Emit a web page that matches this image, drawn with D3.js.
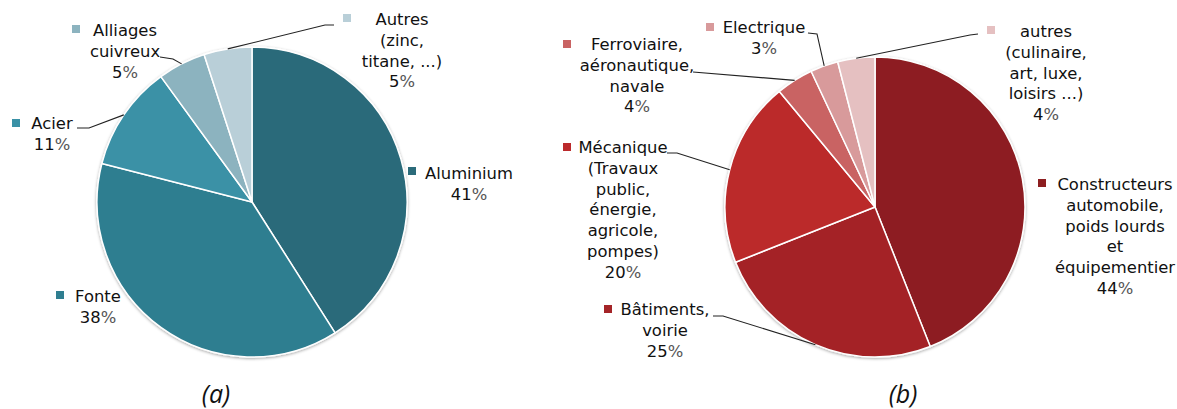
<!DOCTYPE html>
<html>
<head>
<meta charset="utf-8">
<script src="https://cdn.jsdelivr.net/npm/d3@7"></script>
<style>
  body { margin: 0; background: #fff; }
  text { font-family: "DejaVu Sans", sans-serif; fill: #111; }
  .cap { font-family: "Open Sans", sans-serif; font-style: italic; font-size: 25px; }
</style>
</head>
<body>
<div id="chart"></div>
<script>
// Data (a): materials
const labelsA = [["Aluminium"], ["Fonte"], ["Acier"], ["Alliages", "cuivreux"], ["Autres", "(zinc,", "titane, ...)"]];
const valuesA = [41, 38, 11, 5, 5];
const colorsA = ["#2b6b7a", "#2f7e90", "#3a91a6", "#8cb3bf", "#b9cfd8"];

// Data (b): sectors
const labelsB = [["Constructeurs", "automobile,", "poids lourds", "et", "équipementier"], ["Bâtiments,", "voirie"],
                 ["Mécanique", "(Travaux", "public,", "énergie,", "agricole,", "pompes)"],
                 ["Ferroviaire,", "aéronautique,", "navale"], ["Electrique"], ["autres", "(culinaire,", "art, luxe,", "loisirs ...)"]];
const valuesB = [44, 25, 20, 4, 3, 4];
const colorsB = ["#8d1e20", "#a42428", "#bb2a2c", "#c96363", "#d89a9b", "#e5c0c1"];

// Label layout: text centre x, first baseline y, marker centre, leader start points
const layoutA = [
    { x: 469, y: 179, mx: 412, my: 171 },
    { x: 98, y: 302, mx: 60, my: 295 },
    { x: 52, y: 129, mx: 16, my: 123, leader: [[77, 128], [89, 128]] },
    { x: 125, y: 36, mx: 76, my: 29, leader: [[160, 57], [173, 59]] },
    { x: 402, y: 25, mx: 347, my: 18, leader: [[334, 25], [325, 25]] }
];
const layoutB = [
    { x: 1115, y: 190, mx: 1042, my: 183 },
    { x: 665, y: 315, mx: 608, my: 309, leader: [[713, 316], [723, 316]] },
    { x: 623, y: 153, mx: 567, my: 147, leader: [[667, 153], [677, 153]] },
    { x: 637, y: 50, mx: 567, my: 44, leader: [[693, 72]] },
    { x: 764, y: 33, mx: 710, my: 27, leader: [[808, 33], [817, 34]] },
    { x: 1046, y: 37, mx: 991, my: 30, leader: [[978, 34], [970, 35]] }
];

const W = 1177, H = 409;
const lineH = 20.8;

const svg = d3.select("#chart")
    .append("svg")
    .attr("width", W)
    .attr("height", H);

const defs = svg.append("defs");
defs.append("filter")
    .attr("id", "shadow")
    .attr("x", "-10%").attr("y", "-10%")
    .attr("width", "120%").attr("height", "120%")
    .append("feDropShadow")
    .attr("dx", 0).attr("dy", 1)
    .attr("stdDeviation", 1.4)
    .attr("flood-color", "#000")
    .attr("flood-opacity", 0.35);

function drawPie(cx, cy, r, labels, values, colors, layout, caption, capX) {
    const pie = d3.pie().sort(null).value(d => d)
        .startAngle(0).endAngle(2 * Math.PI);
    const arcs = pie(values);
    const arc = d3.arc().innerRadius(0).outerRadius(r);

    const g = svg.append("g").attr("transform", `translate(${cx}, ${cy})`);

    g.append("g")
        .attr("filter", "url(#shadow)")
        .selectAll("path")
        .data(arcs)
        .join("path")
        .attr("d", arc)
        .attr("fill", (d, i) => colors[i])
        .attr("stroke", "#fff")
        .attr("stroke-width", 1.5)
        .attr("stroke-linejoin", "round");

    // Leader lines
    arcs.forEach((d, i) => {
        const l = layout[i];
        if (!l.leader) return;
        const a = (d.startAngle + d.endAngle) / 2;
        const end = [cx + r * Math.sin(a), cy - r * Math.cos(a)];
        svg.append("path")
            .attr("d", d3.line()([...l.leader, end]))
            .attr("fill", "none")
            .attr("stroke", "#222")
            .attr("stroke-width", 1.1);
    });

    // Labels
    labels.forEach((lines, i) => {
        const l = layout[i];
        svg.append("rect")
            .attr("x", l.mx - 4)
            .attr("y", l.my - 4)
            .attr("width", 8)
            .attr("height", 8)
            .attr("fill", colors[i]);

        const t = svg.append("text")
            .attr("text-anchor", "middle")
            .style("font-size", "16.4px");
        lines.forEach((s, k) => {
            t.append("tspan")
                .attr("x", l.x)
                .attr("y", l.y + k * lineH)
                .text(s);
        });
        const pct = t.append("tspan")
            .attr("x", l.x)
            .attr("y", l.y + lines.length * lineH);
        pct.append("tspan").text(values[i]);
        pct.append("tspan").style("fill", "#555").text("%");
    });

    svg.append("text")
        .attr("class", "cap")
        .attr("text-anchor", "middle")
        .attr("x", capX)
        .attr("y", 403)
        .text(caption);
}

drawPie(252, 202, 155, labelsA, valuesA, colorsA, layoutA, "(a)", 216);
drawPie(875, 207, 150, labelsB, valuesB, colorsB, layoutB, "(b)", 903);
</script>
</body>
</html>
